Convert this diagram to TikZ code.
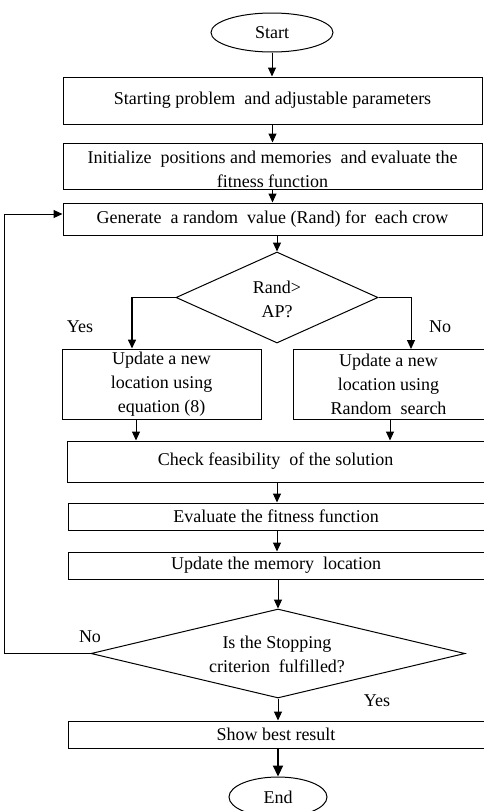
\documentclass[tikz,border=0pt]{standalone}
\usepackage{fontspec}
\setmainfont{Liberation Serif}
\usetikzlibrary{shapes.geometric,arrows.meta}
\begin{document}
\begin{tikzpicture}[x=1pt,y=-1pt,
  every node/.style={font=\fontsize{18}{24}\selectfont},
  box/.style={draw, line width=1pt, rectangle, inner sep=0pt, align=center},
  dia/.style={draw, line width=1pt, diamond, inner sep=0pt},
  oval/.style={draw, line width=1pt, ellipse, inner sep=0pt},
  arr/.style={line width=1pt, -{Triangle[length=9pt,width=8pt]}},
  lbl/.style={inner sep=0pt, align=center}]
\useasboundingbox[fill=white] (0,0) rectangle (484,811);

\node[oval, minimum width=122pt, minimum height=39pt] (s) at (272,32.5) {Start};
\node[box, minimum width=419pt, minimum height=47pt] (b1) at (272.5,100.5) {Starting problem\ \ and adjustable parameters};
\node[box, minimum width=419pt, minimum height=46pt] (b2) at (272.5,166) {};
\node[lbl] (b2t) at (272.5,169) {Initialize\ \ positions and memories\ \ and evaluate the\\fitness function};
\node[box, minimum width=419pt, minimum height=32pt] (b3) at (272.5,219) {Generate\ \ a random\ \ value (Rand) for\ \ each crow};
\node[dia, minimum width=202pt, minimum height=91pt] (d1) at (277,297.5) {};
\node[lbl] (d1t) at (277,299) {Rand>\\AP?};
\node[box, minimum width=199pt, minimum height=70pt] (lb) at (161.5,384) {Update a new\\location using\\equation (8)};
\node[box, minimum width=191pt, minimum height=70pt] (rb) at (388.5,384.5) {Update a new\\location using\\Random\ \ search};
\node[box, minimum width=417pt, minimum height=41pt] (ck) at (275.5,461.5) {Check feasibility\ \ of the solution};
\node[box, minimum width=416pt, minimum height=27pt] (ev) at (276,516.5) {Evaluate the fitness function};
\node[box, minimum width=416pt, minimum height=27pt] (um) at (276,565.5) {Update the memory\ \ location};
\node[dia, minimum width=374pt, minimum height=89pt] (d2) at (278,653.5) {};
\node[lbl] (d2t) at (277,654) {Is the Stopping\\criterion\ \ fulfilled?};
\node[box, minimum width=416pt, minimum height=27pt] (sh) at (276,734.5) {Show best result};
\node[oval, minimum width=98pt, minimum height=40pt] (e) at (278,797) {End};

\node[lbl] (y1) at (80,327) {Yes};
\node[lbl] (n1) at (440,327) {No};
\node[lbl] (n2) at (90,637) {No};
\node[lbl] (y2) at (377,701) {Yes};

\draw[arr] (s.south) -- (s.south |- b1.north);
\draw[arr] (b1.south) -- (b2.north);
\draw[arr] (b2.south) -- (b3.north);
\draw[arr] (b3.south -| d1.north) -- (d1.north);
\draw[arr, line width=1.6pt] (d1.west) -| ([xshift=-29.5pt]lb.north);
\draw[arr] (d1.east) -| ([xshift=22.5pt]rb.north);
\draw[arr] ([xshift=-25.5pt]lb.south) -- ([xshift=-25.5pt]lb.south |- ck.north);
\draw[arr] ([xshift=1.5pt]rb.south) -- ([xshift=1.5pt]rb.south |- ck.north);
\draw[arr] (ck.south -| d1.north) -- (ev.north -| d1.north);
\draw[arr] (ev.south -| d1.north) -- (um.north -| d1.north);
\draw[arr] (um.south -| d2.north) -- (d2.north);
\draw[arr] (d2.south) -- (d2.south |- sh.north);
\draw[arr] (d2.west) -- ++(-86,0) |- ([yshift=5pt]b3.west);
\draw[line width=2.2pt, -{Triangle[length=11pt,width=10pt]}] (sh.south -| e.north) -- (e.north);
\end{tikzpicture}
\end{document}
